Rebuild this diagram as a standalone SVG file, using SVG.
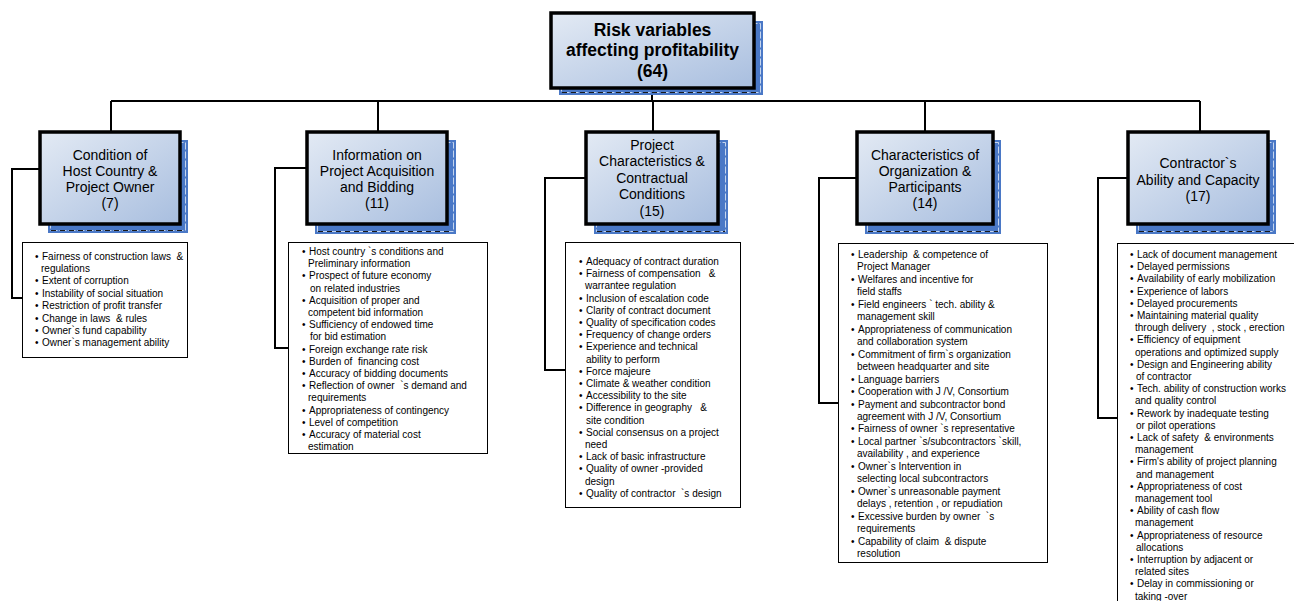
<svg xmlns="http://www.w3.org/2000/svg" width="1294" height="601" viewBox="0 0 1294 601">
<defs>
<linearGradient id="hg" x1="0" y1="0" x2="1" y2="1">
<stop offset="0" stop-color="#e3eaf4"/>
<stop offset="1" stop-color="#a8bedf"/>
</linearGradient>
</defs>
<style>
.sh{fill:#4a78c6}
.shd{fill:none;stroke:#e4ecf8;stroke-width:1;stroke-dasharray:7 2;opacity:0.8}
.shb{fill:none;stroke:#1a1a1a;stroke-width:1;stroke-dasharray:5 4}
.hb{fill:url(#hg);stroke:#000;stroke-width:3.5}
.ht{font-family:"Liberation Sans",Arial,sans-serif;font-size:14px;fill:#000;text-anchor:middle}
.tt{font-family:"Liberation Sans",Arial,sans-serif;font-size:17.5px;font-weight:bold;fill:#000;text-anchor:middle}
.lb{fill:#fff;stroke:#000;stroke-width:1}
.li{font-family:"Liberation Sans",Arial,sans-serif;font-size:10px;fill:#000}
.cn{fill:none;stroke:#000;stroke-width:2}
</style>
<rect width="1294" height="601" fill="#fff"/>

<g id="connectors">
<path class="cn" d="M652,88 V101 M111,101 H1200 M111,101 V132 M378,101 V132 M653,101 V132 M925,101 V132 M1200,101 V132"/>
<path class="cn" d="M40,169 H12 V298 H22"/>
<path class="cn" d="M307,168 H275 V348 H288"/>
<path class="cn" d="M586,178 H545 V370 H565"/>
<path class="cn" d="M857,178 H819 V403 H838"/>
<path class="cn" d="M1128,178 H1098 V418 H1117"/>
</g>

<g id="root">
<rect class="sh" x="559" y="21" width="204" height="74"/>
<rect class="shd" x="561.5" y="23.5" width="199" height="69"/>
<path class="shb" d="M562,92.5 H760"/>
<rect class="hb" x="551" y="13" width="203" height="75"/>
<text class="tt" x="652.5" y="36">Risk variables</text>
<text class="tt" x="652.5" y="56">affecting profitability</text>
<text class="tt" x="652.5" y="77">(64)</text>
</g>

<g id="cat1">
<rect class="sh" x="48" y="140" width="140" height="93"/>
<rect class="shd" x="50.5" y="142.5" width="135" height="88"/>
<path class="shb" d="M51,230.5 H185"/>
<rect class="hb" x="40" y="132" width="140" height="92"/>
<text class="ht" x="110" y="160">Condition of</text>
<text class="ht" x="110" y="176">Host Country &amp;</text>
<text class="ht" x="110" y="192">Project Owner</text>
<text class="ht" x="110" y="208">(7)</text>
</g>

<g id="cat2">
<rect class="sh" x="315" y="140" width="141" height="94"/>
<rect class="shd" x="317.5" y="142.5" width="136" height="89"/>
<path class="shb" d="M318,231.5 H453"/>
<rect class="hb" x="307" y="132" width="140" height="92"/>
<text class="ht" x="377" y="160">Information on</text>
<text class="ht" x="377" y="176">Project Acquisition</text>
<text class="ht" x="377" y="192">and Bidding</text>
<text class="ht" x="377" y="208">(11)</text>
</g>

<g id="cat3">
<rect class="sh" x="594" y="140" width="134" height="94"/>
<rect class="shd" x="596.5" y="142.5" width="129" height="89"/>
<path class="shb" d="M597,231.5 H725"/>
<rect class="hb" x="586" y="132" width="132" height="92"/>
<text class="ht" x="652" y="150">Project</text>
<text class="ht" x="652" y="166">Characteristics &amp;</text>
<text class="ht" x="652" y="183">Contractual</text>
<text class="ht" x="652" y="199">Conditions</text>
<text class="ht" x="652" y="216">(15)</text>
</g>

<g id="cat4">
<rect class="sh" x="865" y="140" width="136" height="94"/>
<rect class="shd" x="867.5" y="142.5" width="131" height="89"/>
<path class="shb" d="M868,231.5 H998"/>
<rect class="hb" x="857" y="132" width="136" height="92"/>
<text class="ht" x="925" y="160">Characteristics of</text>
<text class="ht" x="925" y="176">Organization &amp;</text>
<text class="ht" x="925" y="192">Participants</text>
<text class="ht" x="925" y="208">(14)</text>
</g>

<g id="cat5">
<rect class="sh" x="1136" y="140" width="140" height="94"/>
<rect class="shd" x="1138.5" y="142.5" width="135" height="89"/>
<path class="shb" d="M1139,231.5 H1273"/>
<rect class="hb" x="1128" y="132" width="140" height="92"/>
<text class="ht" x="1198" y="168">Contractor`s</text>
<text class="ht" x="1198" y="185">Ability and Capacity</text>
<text class="ht" x="1198" y="201">(17)</text>
</g>

<g id="list1">
<rect class="lb" x="22.5" y="242.5" width="165" height="115"/>
<text class="li" y="259.5">
<tspan x="35">•</tspan><tspan x="42">Fairness of construction laws &#160;&amp;</tspan>
<tspan x="41" dy="12.4">regulations</tspan>
<tspan x="35" dy="12.4">•</tspan><tspan x="42">Extent of corruption</tspan>
<tspan x="35" dy="12.4">•</tspan><tspan x="42">Instability of social situation</tspan>
<tspan x="35" dy="12.4">•</tspan><tspan x="42">Restriction of profit transfer</tspan>
<tspan x="35" dy="12.4">•</tspan><tspan x="42">Change in laws &#160;&amp; rules</tspan>
<tspan x="35" dy="12.4">•</tspan><tspan x="42">Owner`s fund capability</tspan>
<tspan x="35" dy="12.4">•</tspan><tspan x="42">Owner`s management ability</tspan>
</text>
</g>

<g id="list2">
<rect class="lb" x="288.5" y="242.5" width="199" height="211"/>
<text class="li" y="255">
<tspan x="302">•</tspan><tspan x="309">Host country `s conditions and</tspan>
<tspan x="308" dy="12.2">Preliminary information</tspan>
<tspan x="302" dy="12.2">•</tspan><tspan x="309">Prospect of future economy</tspan>
<tspan x="310" dy="12.2">on related industries</tspan>
<tspan x="302" dy="12.2">•</tspan><tspan x="309">Acquisition of proper and</tspan>
<tspan x="308" dy="12.2">competent bid information</tspan>
<tspan x="302" dy="12.2">•</tspan><tspan x="309">Sufficiency of endowed time</tspan>
<tspan x="310" dy="12.2">for bid estimation</tspan>
<tspan x="302" dy="12.2">•</tspan><tspan x="309">Foreign exchange rate risk</tspan>
<tspan x="302" dy="12.2">•</tspan><tspan x="309">Burden of &#160;financing cost</tspan>
<tspan x="302" dy="12.2">•</tspan><tspan x="309">Accuracy of bidding documents</tspan>
<tspan x="302" dy="12.2">•</tspan><tspan x="309">Reflection of owner &#160;`s demand and</tspan>
<tspan x="308" dy="12.2">requirements</tspan>
<tspan x="302" dy="12.2">•</tspan><tspan x="309">Appropriateness of contingency</tspan>
<tspan x="302" dy="12.2">•</tspan><tspan x="309">Level of competition</tspan>
<tspan x="302" dy="12.2">•</tspan><tspan x="309">Accuracy of material cost</tspan>
<tspan x="308" dy="12.2">estimation</tspan>
</text>
</g>

<g id="list3">
<rect class="lb" x="565.5" y="242.5" width="175" height="265"/>
<text class="li" y="265">
<tspan x="579">•</tspan><tspan x="586">Adequacy of contract duration</tspan>
<tspan x="579" dy="12.2">•</tspan><tspan x="586">Fairness of compensation &#160; &amp;</tspan>
<tspan x="585" dy="12.2">warrantee regulation</tspan>
<tspan x="579" dy="12.2">•</tspan><tspan x="586">Inclusion of escalation code</tspan>
<tspan x="579" dy="12.2">•</tspan><tspan x="586">Clarity of contract document</tspan>
<tspan x="579" dy="12.2">•</tspan><tspan x="586">Quality of specification codes</tspan>
<tspan x="579" dy="12.2">•</tspan><tspan x="586">Frequency of change orders</tspan>
<tspan x="579" dy="12.2">•</tspan><tspan x="586">Experience and technical</tspan>
<tspan x="586" dy="12.2">ability to perform</tspan>
<tspan x="579" dy="12.2">•</tspan><tspan x="586">Force majeure</tspan>
<tspan x="579" dy="12.2">•</tspan><tspan x="586">Climate &amp; weather condition</tspan>
<tspan x="579" dy="12.2">•</tspan><tspan x="586">Accessibility to the site</tspan>
<tspan x="579" dy="12.2">•</tspan><tspan x="586">Difference in geography &#160; &amp;</tspan>
<tspan x="586" dy="12.2">site condition</tspan>
<tspan x="579" dy="12.2">•</tspan><tspan x="586">Social consensus on a project</tspan>
<tspan x="585" dy="12.2">need</tspan>
<tspan x="579" dy="12.2">•</tspan><tspan x="586">Lack of basic infrastructure</tspan>
<tspan x="579" dy="12.2">•</tspan><tspan x="586">Quality of owner -provided</tspan>
<tspan x="585" dy="12.2">design</tspan>
<tspan x="579" dy="12.2">•</tspan><tspan x="586">Quality of contractor &#160;`s design</tspan>
</text>
</g>

<g id="list4">
<rect class="lb" x="838.5" y="243.5" width="209" height="319"/>
<text class="li" y="258">
<tspan x="851">•</tspan><tspan x="858">Leadership &#160;&amp; competence of</tspan>
<tspan x="857" dy="12.46">Project Manager</tspan>
<tspan x="851" dy="12.46">•</tspan><tspan x="858">Welfares and incentive for</tspan>
<tspan x="857" dy="12.46">field staffs</tspan>
<tspan x="851" dy="12.46">•</tspan><tspan x="858">Field engineers ` tech. ability &amp;</tspan>
<tspan x="857" dy="12.46">management skill</tspan>
<tspan x="851" dy="12.46">•</tspan><tspan x="858">Appropriateness of communication</tspan>
<tspan x="857" dy="12.46">and collaboration system</tspan>
<tspan x="851" dy="12.46">•</tspan><tspan x="858">Commitment of firm`s organization</tspan>
<tspan x="857" dy="12.46">between headquarter and site</tspan>
<tspan x="851" dy="12.46">•</tspan><tspan x="858">Language barriers</tspan>
<tspan x="851" dy="12.46">•</tspan><tspan x="858">Cooperation with J /V, Consortium</tspan>
<tspan x="851" dy="12.46">•</tspan><tspan x="858">Payment and subcontractor bond</tspan>
<tspan x="857" dy="12.46">agreement with J /V, Consortium</tspan>
<tspan x="851" dy="12.46">•</tspan><tspan x="858">Fairness of owner `s representative</tspan>
<tspan x="851" dy="12.46">•</tspan><tspan x="858">Local partner `s/subcontractors `skill,</tspan>
<tspan x="857" dy="12.46">availability , and experience</tspan>
<tspan x="851" dy="12.46">•</tspan><tspan x="858">Owner`s Intervention in</tspan>
<tspan x="857" dy="12.46">selecting local subcontractors</tspan>
<tspan x="851" dy="12.46">•</tspan><tspan x="858">Owner`s unreasonable payment</tspan>
<tspan x="857" dy="12.46">delays , retention , or repudiation</tspan>
<tspan x="851" dy="12.46">•</tspan><tspan x="858">Excessive burden by owner &#160;`s</tspan>
<tspan x="857" dy="12.46">requirements</tspan>
<tspan x="851" dy="12.46">•</tspan><tspan x="858">Capability of claim &#160;&amp; dispute</tspan>
<tspan x="857" dy="12.46">resolution</tspan>
</text>
</g>

<g id="list5">
<rect class="lb" x="1117.5" y="243.5" width="200" height="380"/>
<text class="li" y="258">
<tspan x="1130">•</tspan><tspan x="1137">Lack of document management</tspan>
<tspan x="1130" dy="12.2">•</tspan><tspan x="1137">Delayed permissions</tspan>
<tspan x="1130" dy="12.2">•</tspan><tspan x="1137">Availability of early mobilization</tspan>
<tspan x="1130" dy="12.2">•</tspan><tspan x="1137">Experience of labors</tspan>
<tspan x="1130" dy="12.2">•</tspan><tspan x="1137">Delayed procurements</tspan>
<tspan x="1130" dy="12.2">•</tspan><tspan x="1137">Maintaining material quality</tspan>
<tspan x="1135" dy="12.2">through delivery &#160;, stock , erection</tspan>
<tspan x="1130" dy="12.2">•</tspan><tspan x="1137">Efficiency of equipment</tspan>
<tspan x="1135" dy="12.2">operations and optimized supply</tspan>
<tspan x="1130" dy="12.2">•</tspan><tspan x="1137">Design and Engineering ability</tspan>
<tspan x="1136" dy="12.2">of contractor</tspan>
<tspan x="1130" dy="12.2">•</tspan><tspan x="1137">Tech. ability of construction works</tspan>
<tspan x="1135" dy="12.2">and quality control</tspan>
<tspan x="1130" dy="12.2">•</tspan><tspan x="1137">Rework by inadequate testing</tspan>
<tspan x="1136" dy="12.2">or pilot operations</tspan>
<tspan x="1130" dy="12.2">•</tspan><tspan x="1137">Lack of safety &#160;&amp; environments</tspan>
<tspan x="1135" dy="12.2">management</tspan>
<tspan x="1130" dy="12.2">•</tspan><tspan x="1137">Firm's ability of project planning</tspan>
<tspan x="1136" dy="12.2">and management</tspan>
<tspan x="1130" dy="12.2">•</tspan><tspan x="1137">Appropriateness of cost</tspan>
<tspan x="1135" dy="12.2">management tool</tspan>
<tspan x="1130" dy="12.2">•</tspan><tspan x="1137">Ability of cash flow</tspan>
<tspan x="1135" dy="12.2">management</tspan>
<tspan x="1130" dy="12.2">•</tspan><tspan x="1137">Appropriateness of resource</tspan>
<tspan x="1136" dy="12.2">allocations</tspan>
<tspan x="1130" dy="12.2">•</tspan><tspan x="1137">Interruption by adjacent or</tspan>
<tspan x="1135" dy="12.2">related sites</tspan>
<tspan x="1130" dy="12.2">•</tspan><tspan x="1137">Delay in commissioning or</tspan>
<tspan x="1135" dy="12.2">taking -over</tspan>
</text>
</g>
</svg>
